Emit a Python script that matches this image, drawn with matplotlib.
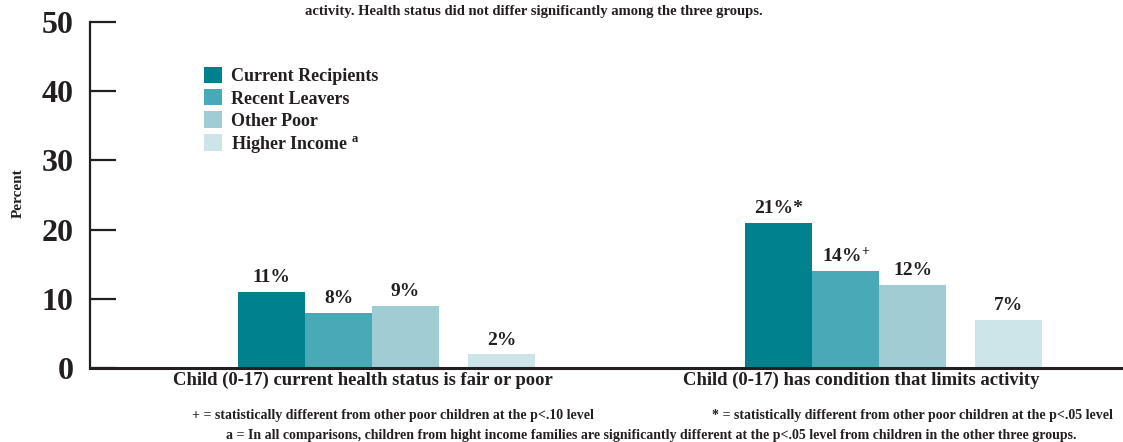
import matplotlib
matplotlib.use("Agg")
import matplotlib.pyplot as plt
import numpy as np

# --- data ---
categories = ["Child (0-17) current health status is fair or poor",
              "Child (0-17) has condition that limits activity"]
series_names = ["Current Recipients", "Recent Leavers", "Other Poor", "Higher Income"]
current_recipients = [11, 21]
recent_leavers = [8, 14]
other_poor = [9, 12]
higher_income = [2, 7]
current_marks = ["", "*"]
leavers_marks = ["", "+"]
other_marks = ["", ""]
higher_marks = ["", ""]
y_ticks = [0, 10, 20, 30, 40, 50]

series_values = [current_recipients, recent_leavers, other_poor, higher_income]
series_marks = [current_marks, leavers_marks, other_marks, higher_marks]
colors = ["#00818e", "#47aab6", "#a0cdd4", "#cde4e9"]
ink = "#231f20"

plt.rcParams["font.family"] = ["Liberation Serif", "DejaVu Serif"]
plt.rcParams["font.weight"] = "bold"
plt.rcParams["mathtext.fontset"] = "custom"
plt.rcParams["mathtext.rm"] = "Liberation Serif:bold"
plt.rcParams["mathtext.bf"] = "Liberation Serif:bold"
plt.rcParams["mathtext.it"] = "Liberation Serif:bold"
plt.rcParams["mathtext.default"] = "bf"

W, H = 1123, 442
fig = plt.figure(figsize=(W / 100, H / 100), dpi=100)
ax = fig.add_axes([90 / W, 74 / H, (W - 90) / W, 346 / H])

# layout in bar-width units
group_left = np.array([2.21, 9.78])
bar_offsets = [0.0, 1.0, 2.0, 3.43]
label_offsets = np.array([1.87, 1.73])

handles = []
for vals, marks, off, col, name in zip(series_values, series_marks, bar_offsets, colors, series_names):
    bars = ax.bar(group_left + off, vals, width=1.0, align="edge", color=col,
                  edgecolor="none", label=name)
    handles.append(bars)
    for rect, v, m in zip(bars, vals, marks):
        if m == "+":
            txt = f"{v}%$^{{\\mathbf{{+}}}}$"
        else:
            txt = f"{v}%{m}"
        ax.annotate(txt, (rect.get_x() + rect.get_width() / 2, v),
                    xytext=(0, 4), textcoords="offset points",
                    ha="center", va="bottom", fontsize=14, fontweight="bold",
                    color=ink)

ax.set_xlim(0, (W - 90) / 67)
ax.set_ylim(0, 50)
ax.set_yticks(y_ticks)
ax.set_yticklabels([str(t) for t in y_ticks], fontsize=23, fontweight="bold", color=ink)
ax.tick_params(axis="y", direction="in", length=19, width=1.6, pad=12, colors=ink)
ax.set_xticks(group_left + label_offsets)
ax.set_xticklabels(categories, fontsize=13.4, fontweight="bold", color=ink)
ax.tick_params(axis="x", length=0, pad=3)

for s in ["top", "right"]:
    ax.spines[s].set_visible(False)
ax.spines["left"].set_linewidth(1.6)
ax.spines["bottom"].set_linewidth(2.2)
ax.spines["left"].set_color(ink)
ax.spines["bottom"].set_color(ink)

ax.set_ylabel("Percent", fontsize=11, fontweight="bold", color=ink)
ax.yaxis.set_label_coords(-65 / (W - 90), (368 - 193) / 346)

labels = series_names[:3] + [r"Higher Income $^{\mathbf{a}}$"]
leg = ax.legend(handles, labels, loc="upper left",
                bbox_to_anchor=(195 / W, 1 - 58 / H), bbox_transform=fig.transFigure,
                frameon=False, fontsize=13, handlelength=1.0, handleheight=1.0,
                handletextpad=0.5, labelspacing=0.22, borderpad=0)
for t in leg.get_texts():
    t.set_color(ink)

fig.text(534 / W, 1 - 11 / H,
         "activity. Health status did not differ significantly among the three groups.",
         ha="center", va="center", fontsize=10.5, fontweight="bold", color=ink)

fig.text(192 / W, 1 - 416 / H,
         "+ = statistically different from other poor children at the p<.10 level",
         ha="left", va="center", fontsize=10, fontweight="bold", color=ink)
fig.text(1113 / W, 1 - 416 / H,
         "* = statistically different from other poor children at the p<.05 level",
         ha="right", va="center", fontsize=10, fontweight="bold", color=ink)
fig.text(651 / W, 1 - 435 / H,
         "a = In all comparisons, children from hight income families are significantly "
         "different at the p<.05 level from children in the other three groups.",
         ha="center", va="center", fontsize=10, fontweight="bold", color=ink)

fig.savefig("out.png", dpi=100)
